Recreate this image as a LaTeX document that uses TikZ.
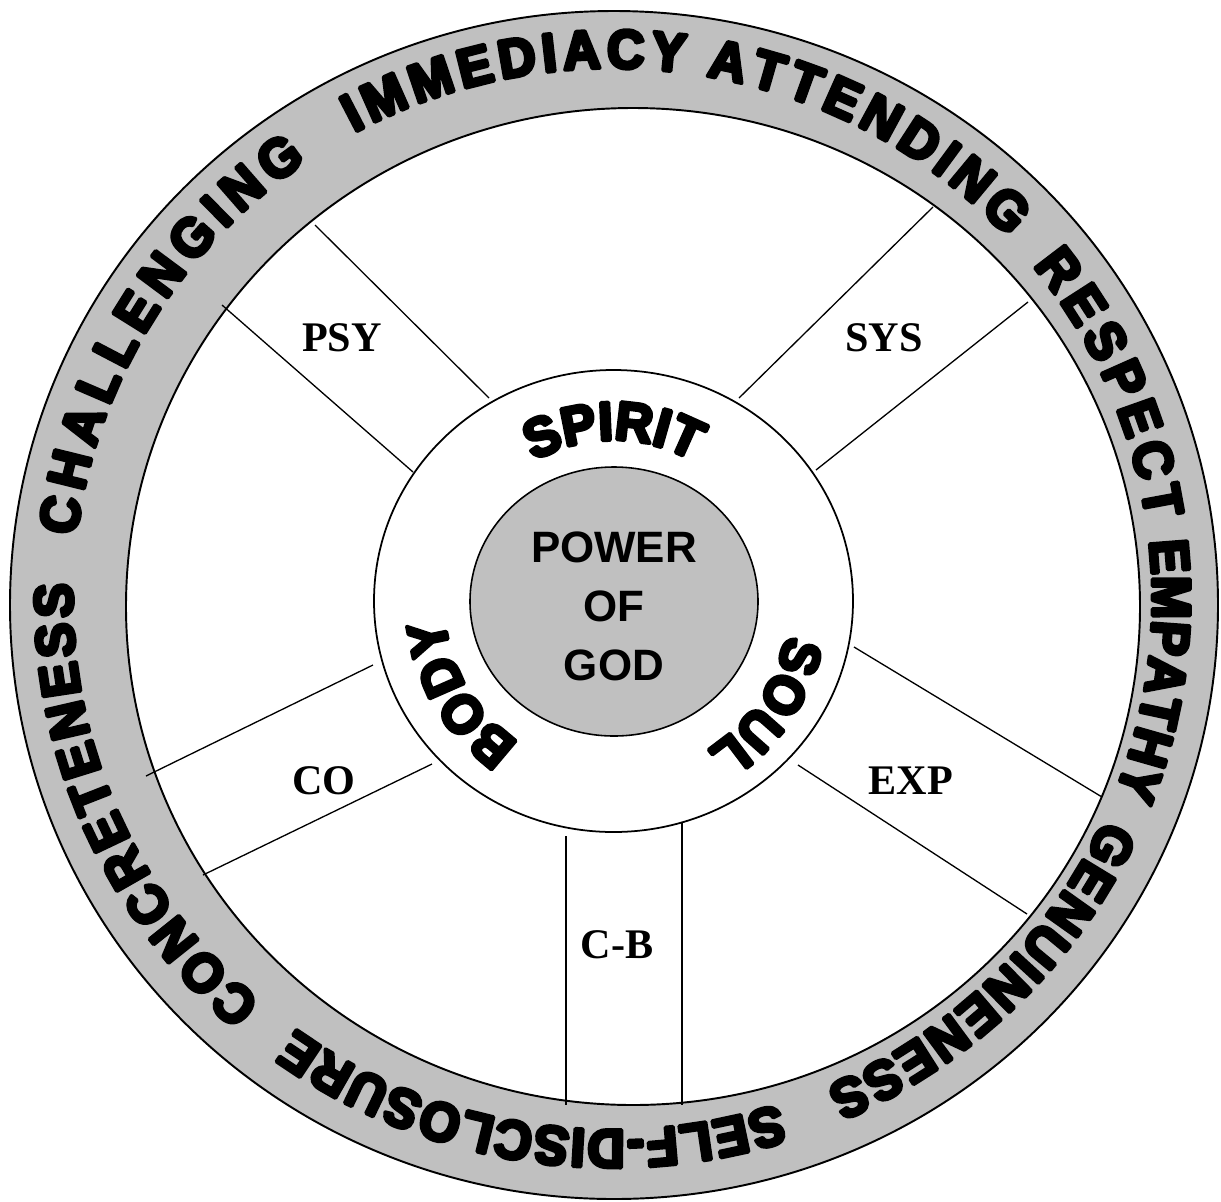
\documentclass[tikz,border=0pt]{standalone}
\usepackage{fontspec}
\usetikzlibrary{decorations.text}
\setmainfont{Liberation Serif}
\newfontfamily\wheelfam{Liberation Sans Bold}[FakeBold=7,FakeStretch=0.95]
\newfontfamily\godfam{Liberation Sans}
\newcommand\wheelfont{\wheelfam\fontsize{31}{31}\selectfont}
\definecolor{ringG}{RGB}{192,192,192}

\begin{document}
\begin{tikzpicture}[x=0.02cm,y=0.02cm,line join=round,
  ringword/.style={decorate,decoration={text along path,text align=fit to path,text={|\wheelfont|#1}}},
  coreword/.style={decorate,decoration={text along path,text align=center,text={|\wheelfont|#1}}},
  lab/.style={font=\bfseries\fontsize{24}{24}\selectfont,inner sep=0pt}]
\useasboundingbox (0,0) rectangle (1221,-1201);
\fill[ringG] (614,-605) ellipse[x radius=604,y radius=594];
\draw[line width=1.1pt] (614,-605) ellipse[x radius=604,y radius=594];
\filldraw[fill=white,line width=1.1pt] (633,-606.5) ellipse[x radius=507,y radius=498.5];
\path[ringword=CONCRETENESS] (612.5,-599) ++(229.4:540 and 531) arc[start angle=229.4,end angle=178.3,x radius=540,y radius=531];
\path[ringword=CHALLENGING] (612.5,-599) ++(173.2:540 and 531) arc[start angle=173.2,end angle=124.5,x radius=540,y radius=531];
\path[ringword=IMMEDIACY] (612.5,-599) ++(118.6:540 and 531) arc[start angle=118.6,end angle=82.4,x radius=540,y radius=531];
\path[ringword=ATTENDING] (612.5,-599) ++(80:540 and 531) arc[start angle=80,end angle=42.9,x radius=540,y radius=531];
\path[ringword=RESPECT] (612.5,-599) ++(38.9:540 and 531) arc[start angle=38.9,end angle=8.6,x radius=540,y radius=531];
\path[ringword=EMPATHY] (612.5,-599) ++(6.3:540 and 531) arc[start angle=6.3,end angle=-21.5,x radius=540,y radius=531];
\path[ringword=GENUINENESS] (612.5,-599) ++(-24.5:540 and 531) arc[start angle=-24.5,end angle=-66.7,x radius=540,y radius=531];
\path[ringword=SELF-DISCLOSURE] (612.5,-599) ++(-72.1:540 and 531) arc[start angle=-72.1,end angle=-126,x radius=540,y radius=531];
\draw[line width=0.75pt] (315,-225)--(489,-398) (222,-305)--(413,-472);
\draw[line width=0.75pt] (933,-207)--(739,-398) (1028,-302)--(816,-470);
\draw[line width=0.75pt] (854,-647)--(1102,-797) (798,-765)--(1027,-914);
\draw[line width=0.75pt] (566,-836)--(566,-1105) (682,-818)--(682,-1105);
\draw[line width=0.75pt] (373,-665)--(146,-776) (432,-764)--(203,-875);
\filldraw[fill=white,line width=1pt] (613.5,-601) ellipse[x radius=239.5,y radius=231];
\filldraw[fill=ringG,line width=0.9pt] (614,-601.5) ellipse[x radius=144,y radius=134.5];
\path[coreword=SPIRIT] (613.5,-601) ++(150:161) arc[start angle=150,end angle=30,radius=161];
\path[coreword=SOUL] (613.5,-601) ++(25.5:176) arc[start angle=25.5,end angle=-94.5,radius=176];
\path[coreword=BODY] (613.5,-601) ++(271:170) arc[start angle=271,end angle=151,radius=170];
\node[align=center,inner sep=0pt,font=\godfam\bfseries\fontsize{25}{33.6}\selectfont] (god) at (614,-606) {POWER\\OF\\GOD};
\node[lab] (psy) at (342,-338) {PSY};
\node[lab] (sys) at (884,-338) {SYS};
\node[lab] (co) at (324,-781) {CO};
\node[lab] (exp) at (911,-781) {EXP};
\node[lab] (cb) at (617,-945) {C-B};
\end{tikzpicture}
\end{document}
